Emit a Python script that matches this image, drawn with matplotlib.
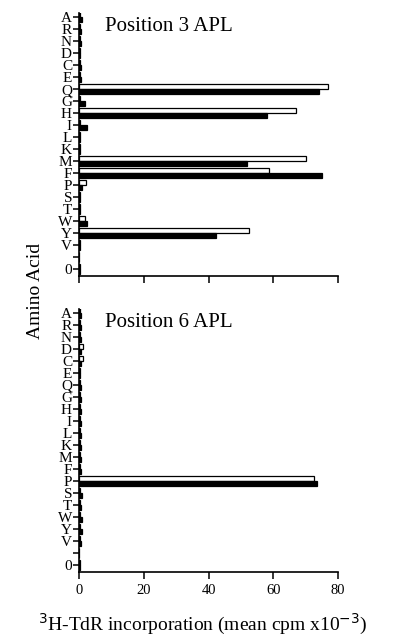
import matplotlib.pyplot as plt
import numpy as np

plt.rcParams['font.family'] = ['Liberation Serif', 'DejaVu Serif']

# Amino acid substitutions, then a spacer and the "0" (no peptide) control
residues = ['A', 'R', 'N', 'D', 'C', 'E', 'Q', 'G', 'H', 'I', 'L', 'K',
            'M', 'F', 'P', 'S', 'T', 'W', 'Y', 'V', '', '0']

# Position 3 APL (mean cpm x10^-3), open and filled bars
pos3_open = [0.3, 0.2, 0.2, 0.2, 0.3, 0.3, 77, 0.3, 67, 0.3, 0.2, 0.3,
             70, 58.5, 2.2, 0.3, 0.3, 2, 52.5, 0.3, 0, 0.2]
pos3_filled = [1, 0.5, 0.5, 0.3, 0.7, 0.7, 74, 2, 58, 2.5, 0.3, 0.3,
               52, 75, 0.8, 0.3, 0.3, 2.4, 42.3, 0.3, 0, 0.2]

# Position 6 APL
pos6_open = [0.2, 0.2, 0.3, 1.2, 1.2, 0.3, 0.3, 0.3, 0.2, 0.3, 0.3, 0.3,
             0.3, 0.3, 72.6, 0.3, 0.3, 0.3, 0.3, 0.3, 0, 0.3]
pos6_filled = [0.5, 0.5, 0.5, 0.5, 0.5, 0.3, 0.5, 0.5, 0.5, 0.5, 0.5, 0.5,
               0.5, 0.5, 73.6, 0.8, 0.5, 0.8, 0.8, 0.5, 0, 0.3]

fig = plt.figure(figsize=(4.05, 6.39), dpi=100)
ax_top = fig.add_axes([0.195, 0.568, 0.640, 0.412])
ax_bot = fig.add_axes([0.195, 0.105, 0.640, 0.412])

y = np.arange(len(residues))
h = 0.42

for ax, opn, fil, title in [(ax_top, pos3_open, pos3_filled, 'Position 3 APL'),
                            (ax_bot, pos6_open, pos6_filled, 'Position 6 APL')]:
    ax.barh(y - h / 2, opn, height=h, color='white', edgecolor='black', linewidth=0.9)
    ax.barh(y + h / 2, fil, height=h, color='black', edgecolor='black', linewidth=0.9)
    ax.set_xlim(0, 80)
    ax.set_ylim(21.55, -0.35)
    ax.set_yticks(y)
    ax.set_yticklabels(residues, fontsize=11)
    ax.set_xticks([0, 20, 40, 60, 80])
    ax.spines['top'].set_visible(False)
    ax.spines['right'].set_visible(False)
    ax.spines['left'].set_linewidth(1.2)
    ax.spines['bottom'].set_linewidth(1.2)
    ax.tick_params(axis='y', length=4, width=1.1, pad=1)
    ax.tick_params(axis='x', length=5, width=1.1, labelsize=10.5)
    ax.text(0.10, 0.985, title, transform=ax.transAxes, fontsize=15,
            va='top', ha='left')

ax_top.tick_params(axis='x', labelbottom=False)

fig.text(0.088, 0.545, 'Amino Acid', rotation=90, fontsize=14,
         ha='center', va='center')
fig.text(0.5, 0.022, r'$^{3}$H-TdR incorporation (mean cpm x10$^{-3}$)',
         fontsize=14, ha='center', va='center')

fig.savefig('out.png', dpi=100)
